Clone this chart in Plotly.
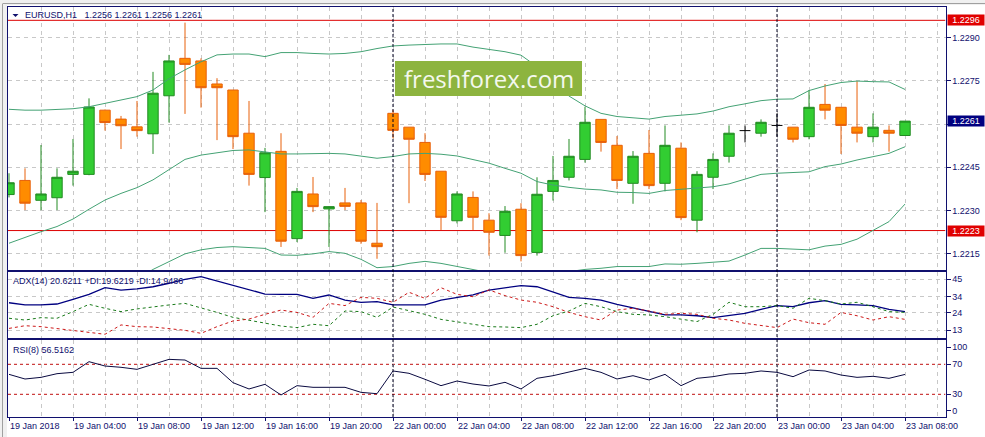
import plotly.graph_objects as go

# ---------------- data ----------------
hours = list(range(57))  # hourly bars, 19 Jan 00:00 .. 23 Jan 08:00 (weekend skipped)
time_labels = ["19 Jan 2018", "19 Jan 04:00", "19 Jan 08:00", "19 Jan 12:00", "19 Jan 16:00",
               "19 Jan 20:00", "22 Jan 00:00", "22 Jan 04:00", "22 Jan 08:00", "22 Jan 12:00",
               "22 Jan 16:00", "22 Jan 20:00", "23 Jan 00:00", "23 Jan 04:00", "23 Jan 08:00"]
time_label_pos = [0, 4, 8, 12, 16, 20, 24, 28, 32, 36, 40, 44, 48, 52, 56]

opens = [1.22355, 1.22404, 1.22335, 1.22344, 1.22425, 1.22425, 1.22648, 1.22617, 1.22590, 1.22566,
         1.22698, 1.22828, 1.22819, 1.22739, 1.22718, 1.22568, 1.22414, 1.22505, 1.22202, 1.22357,
         1.22305, 1.22326, 1.22326, 1.22186, 1.22637, 1.22589, 1.22536, 1.22436, 1.22264, 1.22345,
         1.22266, 1.22213, 1.22304, 1.22154, 1.22366, 1.22415, 1.22477, 1.22616, 1.22526, 1.22394,
         1.22498, 1.22394, 1.22516, 1.22266, 1.22415, 1.22488, 1.22577, 1.22568, 1.22595, 1.22589,
         1.22556, 1.22668, 1.22658, 1.22589, 1.22556, 1.22578, 1.22560]
highs = [1.22429, 1.22446, 1.22527, 1.22446, 1.22548, 1.22689, 1.22650, 1.22628, 1.22680, 1.22781,
         1.22840, 1.22952, 1.22828, 1.22759, 1.22718, 1.22680, 1.22517, 1.22568, 1.22378, 1.22416,
         1.22315, 1.22378, 1.22336, 1.22326, 1.22649, 1.22589, 1.22568, 1.22436, 1.22366, 1.22366,
         1.22290, 1.22315, 1.22325, 1.22415, 1.22489, 1.22548, 1.22660, 1.22616, 1.22558, 1.22506,
         1.22579, 1.22595, 1.22536, 1.22436, 1.22498, 1.22595, 1.22595, 1.22616, 1.22637, 1.22589,
         1.22718, 1.22739, 1.22658, 1.22749, 1.22637, 1.22595, 1.22610]
lows = [1.22345, 1.22301, 1.22301, 1.22301, 1.22386, 1.22422, 1.22577, 1.22513, 1.22556, 1.22496,
        1.22605, 1.22635, 1.22657, 1.22544, 1.22513, 1.22386, 1.22294, 1.22173, 1.22190, 1.22294,
        1.22173, 1.22301, 1.22184, 1.22132, 1.22550, 1.22325, 1.22402, 1.22232, 1.22255, 1.22232,
        1.22143, 1.22153, 1.22123, 1.22143, 1.22334, 1.22404, 1.22466, 1.22504, 1.22374, 1.22323,
        1.22374, 1.22366, 1.22266, 1.22224, 1.22374, 1.22466, 1.22536, 1.22556, 1.22556, 1.22536,
        1.22547, 1.22616, 1.22496, 1.22536, 1.22536, 1.22504, 1.22560]
closes = [1.22396, 1.22325, 1.22357, 1.22415, 1.22436, 1.22659, 1.22605, 1.22594, 1.22577, 1.22707,
          1.22819, 1.22807, 1.22726, 1.22726, 1.22556, 1.22425, 1.22500, 1.22193, 1.22366, 1.22313,
          1.22313, 1.22314, 1.22193, 1.22174, 1.22578, 1.22547, 1.22425, 1.22276, 1.22357, 1.22276,
          1.22224, 1.22297, 1.22143, 1.22356, 1.22404, 1.22488, 1.22606, 1.22536, 1.22404, 1.22488,
          1.22386, 1.22526, 1.22275, 1.22425, 1.22477, 1.22568, 1.22577, 1.22606, 1.22595, 1.22547,
          1.22658, 1.22648, 1.22595, 1.22568, 1.22589, 1.22568, 1.22610]

bb_upper = [1.22651, 1.22648, 1.22648, 1.22651, 1.22653, 1.22660, 1.22672, 1.22683, 1.22695, 1.22718,
            1.22757, 1.22788, 1.22816, 1.22840, 1.22843, 1.22843, 1.22834, 1.22848, 1.22848, 1.22845,
            1.22843, 1.22845, 1.22851, 1.22862, 1.22871, 1.22874, 1.22877, 1.22878, 1.22878, 1.22867,
            1.22859, 1.22851, 1.22839, 1.22799, 1.22747, 1.22697, 1.22663, 1.22637, 1.22626, 1.22622,
            1.22617, 1.22626, 1.22631, 1.22635, 1.22645, 1.22660, 1.22670, 1.22681, 1.22686, 1.22687,
            1.22716, 1.22732, 1.22744, 1.22749, 1.22747, 1.22746, 1.22720]
bb_middle = [1.22186, 1.22207, 1.22226, 1.22244, 1.22270, 1.22304, 1.22336, 1.22359, 1.22379, 1.22406,
             1.22443, 1.22477, 1.22492, 1.22500, 1.22508, 1.22510, 1.22504, 1.22496, 1.22496, 1.22498,
             1.22498, 1.22496, 1.22489, 1.22481, 1.22487, 1.22496, 1.22498, 1.22495, 1.22489, 1.22477,
             1.22464, 1.22446, 1.22429, 1.22400, 1.22388, 1.22380, 1.22374, 1.22371, 1.22363, 1.22362,
             1.22359, 1.22369, 1.22374, 1.22377, 1.22382, 1.22392, 1.22408, 1.22425, 1.22429, 1.22431,
             1.22434, 1.22452, 1.22461, 1.22475, 1.22487, 1.22498, 1.22521]
bb_lower = [None, None, None, None, None, None, None, None, 1.22061, 1.22095,
            1.22122, 1.22149, 1.22163, 1.22171, 1.22174, 1.22172, 1.22168, 1.22145, 1.22144, 1.22149,
            1.22157, 1.22151, 1.22130, 1.22101, 1.22105, 1.22116, 1.22123, 1.22116, 1.22105, 1.22095,
            1.22084, 1.22076, 1.22070, 1.22072, 1.22079, 1.22087, 1.22095, 1.22099, 1.22105, 1.22105,
            1.22105, 1.22114, 1.22113, 1.22116, 1.22120, 1.22124, 1.22145, 1.22168, 1.22168, 1.22166,
            1.22163, 1.22176, 1.22182, 1.22200, 1.22230, 1.22261, 1.22322]

adx = [30.2, 28.8, 28.8, 29.4, 32.4, 35.5, 39.7, 38.2, 38.9, 40.3,
       42.5, 45.0, 46.7, 43.9, 41.0, 38.2, 35.7, 35.5, 35.5, 33.0,
       35.1, 31.9, 30.5, 30.9, 28.8, 28.8, 28.8, 31.9, 33.6, 35.1,
       38.2, 39.7, 41.0, 40.3, 36.8, 33.6, 33.0, 31.9, 29.2, 27.1,
       24.6, 22.5, 22.5, 22.0, 20.8, 22.0, 23.5, 26.0, 28.4, 27.7,
       30.2, 31.5, 29.2, 28.8, 28.4, 26.0, 24.6]
plus_di = [20.4, 19.3, 20.8, 20.4, 24.6, 29.2, 26.7, 24.6, 26.3, 27.7,
           28.8, 29.8, 27.1, 24.1, 21.0, 19.3, 17.2, 15.5, 14.5, 16.6,
           15.7, 25.0, 24.6, 21.0, 27.5, 25.2, 22.9, 19.7, 18.3, 16.6,
           15.1, 14.9, 14.5, 16.6, 22.0, 25.0, 29.8, 27.7, 24.6, 22.9,
           22.5, 21.4, 19.7, 18.3, 22.9, 30.5, 27.7, 27.7, 28.4, 26.7,
           33.0, 31.5, 29.4, 30.5, 27.7, 24.6, 24.1]
minus_di = [14.0, 15.7, 15.1, 14.0, 12.8, 11.5, 10.3, 16.2, 15.1, 14.9,
            14.0, 12.8, 10.9, 15.1, 18.7, 19.9, 22.9, 25.6, 24.1, 21.0,
            29.8, 28.4, 33.6, 33.0, 30.5, 36.8, 33.0, 39.7, 35.5, 34.0,
            38.3, 34.7, 31.9, 30.5, 27.7, 24.1, 21.4, 19.3, 25.6, 26.7,
            25.0, 22.9, 23.5, 22.9, 20.4, 19.3, 17.2, 15.7, 14.5, 19.9,
            17.6, 16.6, 24.1, 22.0, 19.3, 21.4, 19.7]
rsi = [56.6, 50.4, 52.6, 57.5, 59.3, 73.5, 67.7, 66.0, 63.3, 70.4,
       76.6, 75.7, 64.6, 64.6, 45.5, 37.1, 43.3, 29.1, 41.5, 39.3,
       39.3, 39.3, 32.6, 30.8, 61.1, 58.0, 50.0, 41.5, 47.7, 43.7,
       41.1, 46.0, 37.1, 51.3, 54.8, 60.2, 64.6, 59.3, 50.4, 54.8,
       49.1, 56.6, 41.5, 51.3, 53.5, 57.1, 58.0, 61.1, 59.3, 53.5,
       62.4, 61.1, 55.7, 52.6, 54.0, 51.3, 56.5]

price_levels = [1.2296, 1.2223]
last_price = 1.2261
price_ticks = [1.2290, 1.2275, 1.2260, 1.2245, 1.2230, 1.2215]
price_tick_text = ["1.2290", "1.2275", "", "1.2245", "1.2230", "1.2215"]  # 1.2260 hidden by price box
adx_ticks = [45, 34, 24, 13]
rsi_levels = [70, 30]
rsi_tick_vals = [92.7, 70, 30, 8.1]
rsi_tick_text = ["100", "70", "30", "0"]
separators = [24, 48]

header_main = "EURUSD,H1\u00a0\u00a0 1.2256 1.2261 1.2256 1.2261"
header_adx = "ADX(14) 20.6211 +DI:19.6219 -DI:14.9486"
header_rsi = "RSI(8) 56.5162"
watermark = "freshforex.com"

# ---------------- layout helpers (pixel -> paper) ----------------
W, H = 985, 437
def fx(p):
    return p / W
def fy(p):
    return 1 - p / H

NAVY = "#10106e"
GRID = "#c8c8c8"
FONT = "Liberation Sans, Arial, sans-serif"
tfont = dict(family=FONT, size=9, color=NAVY)

x_dom = [fx(8), fx(945.5)]
main_dom = [fy(270), fy(6.5)]
adx_dom = [fy(338), fy(272)]
rsi_dom = [fy(417), fy(339.5)]
x_range = [-0.0625, 58.53]

fig = go.Figure()

# Bollinger bands
for band in (bb_upper, bb_middle, bb_lower):
    fig.add_trace(go.Scatter(x=hours, y=band, mode="lines", xaxis="x", yaxis="y",
                             line=dict(color="#44a274", width=1), hoverinfo="skip"))

# candles
norm = [i for i in hours if opens[i] != closes[i]]
doji = [i for i in hours if opens[i] == closes[i]]
fig.add_trace(go.Candlestick(
    x=[hours[i] for i in norm], open=[opens[i] for i in norm], high=[highs[i] for i in norm],
    low=[lows[i] for i in norm], close=[closes[i] for i in norm],
    xaxis="x", yaxis="y", whiskerwidth=0,
    increasing=dict(fillcolor="#32cd32", line=dict(color="#228b22", width=1)),
    decreasing=dict(fillcolor="#ff8c00", line=dict(color="#e8600a", width=1)),
    hoverinfo="skip"))
dx, dy = [], []
for i in doji:
    dx += [hours[i] - 0.34, hours[i] + 0.34, None, hours[i], hours[i], None]
    dy += [opens[i], closes[i], None, highs[i], lows[i], None]
fig.add_trace(go.Scatter(x=dx, y=dy, mode="lines", xaxis="x", yaxis="y",
                         line=dict(color="black", width=1), hoverinfo="skip"))

# ADX
fig.add_trace(go.Scatter(x=hours, y=adx, mode="lines", xaxis="x2", yaxis="y2",
                         line=dict(color="#000080", width=1.3), hoverinfo="skip"))
fig.add_trace(go.Scatter(x=hours, y=plus_di, mode="lines", xaxis="x2", yaxis="y2",
                         line=dict(color="#1a7a1a", width=1, dash="3px,3px"), hoverinfo="skip"))
fig.add_trace(go.Scatter(x=hours, y=minus_di, mode="lines", xaxis="x2", yaxis="y2",
                         line=dict(color="#cc1a1a", width=1, dash="3px,3px"), hoverinfo="skip"))

# RSI
fig.add_trace(go.Scatter(x=hours, y=rsi, mode="lines", xaxis="x3", yaxis="y3",
                         line=dict(color="#0a0a40", width=1), hoverinfo="skip"))

xcommon = dict(domain=x_dom, range=x_range, showline=True, linecolor=NAVY, linewidth=1, mirror=True,
               showgrid=True, gridcolor=GRID, griddash="4px,4px", gridwidth=1, zeroline=False,
               fixedrange=True)
ycommon = dict(side="right", showline=True, linecolor=NAVY, linewidth=1, mirror=True,
               zeroline=False, ticks="outside", ticklen=4, tickcolor=NAVY, tickfont=tfont,
               gridcolor=GRID, griddash="4px,4px", fixedrange=True)

fig.update_layout(
    width=W, height=H, margin=dict(l=0, r=0, t=0, b=0),
    paper_bgcolor="white", plot_bgcolor="white", showlegend=False, hovermode=False,
    boxgap=0.35, boxgroupgap=0,
    xaxis=dict(xcommon, anchor="y", tickmode="linear", tick0=0, dtick=2, showticklabels=False,
               ticks="", rangeslider=dict(visible=False)),
    xaxis2=dict(xcommon, anchor="y2", tickmode="linear", tick0=0, dtick=2, showticklabels=False, ticks=""),
    xaxis3=dict(xcommon, anchor="y3", tickmode="array", tickvals=time_label_pos, showticklabels=False,
                ticks="outside", ticklen=3, tickcolor=NAVY,
                minor=dict(tickmode="linear", tick0=0, dtick=2, showgrid=True, gridcolor=GRID,
                           griddash="4px,4px", ticks="")),
    yaxis=dict(ycommon, domain=main_dom, anchor="x", range=[1.22093, 1.23008],
               tickmode="array", tickvals=price_ticks, ticktext=price_tick_text, showgrid=True),
    yaxis2=dict(ycommon, domain=adx_dom, anchor="x2", range=[7.95, 49.61],
                tickmode="array", tickvals=adx_ticks, showgrid=True),
    yaxis3=dict(ycommon, domain=rsi_dom, anchor="x3", range=[-0.27, 103.07],
                tickmode="array", tickvals=rsi_tick_vals, ticktext=rsi_tick_text, showgrid=False),
)

shapes = []
# window frame strips
shapes.append(dict(type="rect", xref="paper", yref="paper", x0=0, x1=fx(7), y0=0, y1=1,
                   fillcolor="#f0f0f0", line=dict(width=0), layer="below"))
shapes.append(dict(type="rect", xref="paper", yref="paper", x0=0, x1=1, y0=fy(5), y1=1,
                   fillcolor="#f0f0f0", line=dict(width=0), layer="below"))
shapes.append(dict(type="line", xref="paper", yref="paper", x0=fx(2.5), x1=fx(2.5), y0=0, y1=fy(4),
                   line=dict(color="#a0a0a0", width=1), layer="below"))
shapes.append(dict(type="line", xref="paper", yref="paper", x0=fx(2.5), x1=1, y0=fy(3.5), y1=fy(3.5),
                   line=dict(color="#a0a0a0", width=1), layer="below"))
# horizontal price levels
for lv in price_levels:
    shapes.append(dict(type="line", xref="x", yref="y", x0=x_range[0], x1=x_range[1], y0=lv, y1=lv,
                       line=dict(color="#dd0000", width=1), layer="below"))
# RSI levels
for lv in rsi_levels:
    shapes.append(dict(type="line", xref="x3", yref="y3", x0=x_range[0], x1=x_range[1], y0=lv, y1=lv,
                       line=dict(color="#c01010", width=1, dash="3px,3px"), layer="below"))
# day separators
for s in separators:
    shapes.append(dict(type="line", xref="x", yref="paper", x0=s, x1=s, y0=fy(417), y1=fy(6.5),
                       line=dict(color="#000020", width=1, dash="3px,2px"), layer="above"))
# watermark box
shapes.append(dict(type="rect", xref="paper", yref="paper", x0=fx(395), x1=fx(582), y0=fy(96), y1=fy(61),
                   fillcolor="#8db43f", line=dict(width=0), layer="above"))
# header triangle
shapes.append(dict(type="path", xref="paper", yref="paper",
                   path=f"M {fx(12.5)},{fy(14)} L {fx(18.5)},{fy(14)} L {fx(15.5)},{fy(17)} Z",
                   fillcolor=NAVY, line=dict(width=0), layer="above"))
fig.update_layout(shapes=shapes)

ann = []
ann.append(dict(text=header_main, x=fx(24), y=fy(15.3), xref="paper", yref="paper",
                xanchor="left", yanchor="middle", showarrow=False, font=tfont, borderpad=0))
ann.append(dict(text=header_adx, x=fx(12), y=fy(280.7), xref="paper", yref="paper",
                xanchor="left", yanchor="middle", showarrow=False, font=tfont, borderpad=0))
ann.append(dict(text=header_rsi, x=fx(12), y=fy(350), xref="paper", yref="paper",
                xanchor="left", yanchor="middle", showarrow=False, font=tfont, borderpad=0))
for pos, lab in zip(time_label_pos, time_labels):
    ann.append(dict(text=lab, x=pos, xref="x3", y=fy(425.7), yref="paper", xanchor="left",
                    yanchor="middle", showarrow=False, font=tfont, borderpad=0))
for lv in price_levels:
    ann.append(dict(text=f"{lv:.4f}", x=fx(946.5), xref="paper", y=lv, yref="y", xanchor="left",
                    yanchor="middle", showarrow=False, bgcolor="#e00000", width=36, height=10,
                    borderpad=0, font=dict(family=FONT, size=9, color="white")))
ann.append(dict(text=f"{last_price:.4f}", x=fx(946.5), xref="paper", y=last_price, yref="y",
                xanchor="left", yanchor="middle", showarrow=False, bgcolor="#000080", width=36,
                height=10, borderpad=0, font=dict(family=FONT, size=9, color="white")))
ann.append(dict(text=watermark, x=fx(488.5), y=fy(78.5), xref="paper", yref="paper",
                xanchor="center", yanchor="middle", showarrow=False,
                font=dict(family="Open Sans", size=24, color="#f4f8ee")))
fig.update_layout(annotations=ann)

fig.write_html("out.html", config={"displayModeBar": False},
               post_script="document.body.style.margin='0';")
